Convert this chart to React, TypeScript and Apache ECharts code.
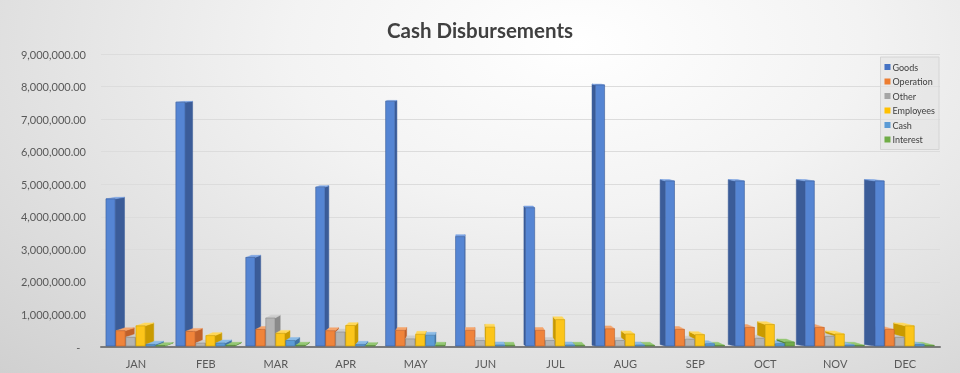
import React, { useEffect, useRef } from "react";
import * as echarts from "echarts";

const months = ["JAN", "FEB", "MAR", "APR", "MAY", "JUN", "JUL", "AUG", "SEP", "OCT", "NOV", "DEC"];
const goods = [4550000, 7520000, 2750000, 4910000, 7550000, 3390000, 4280000, 8050000, 5100000, 5100000, 5100000, 5100000];
const operation = [500000, 480000, 540000, 500000, 510000, 510000, 510000, 560000, 540000, 600000, 600000, 540000];
const other = [300000, 120000, 890000, 460000, 250000, 200000, 200000, 200000, 240000, 270000, 330000, 300000];
const employees = [650000, 350000, 420000, 660000, 390000, 610000, 840000, 400000, 380000, 690000, 400000, 650000];
const cash = [80000, 120000, 200000, 80000, 360000, 60000, 60000, 60000, 100000, 100000, 60000, 80000];
const interest = [40000, 50000, 50000, 40000, 50000, 50000, 50000, 50000, 50000, 150000, 50000, 50000];
const yTicks = [0, 1000000, 2000000, 3000000, 4000000, 5000000, 6000000, 7000000, 8000000, 9000000];

const seriesDefs = [
  { name: "Goods", data: goods, front: "#5585d3", side: "#3b5c98", top: "#7aa2e3", legend: "#4472c4" },
  { name: "Operation", data: operation, front: "#f0843a", side: "#c1612a", top: "#f5a56c", legend: "#ed7d31" },
  { name: "Other", data: other, front: "#b4b4b4", side: "#8a8a8a", top: "#cdcdcd", legend: "#a5a5a5" },
  { name: "Employees", data: employees, front: "#fcc51a", side: "#c99a00", top: "#ffd85a", legend: "#ffc000" },
  { name: "Cash", data: cash, front: "#5b9bd5", side: "#3f73a3", top: "#8bbbe6", legend: "#5b9bd5" },
  { name: "Interest", data: interest, front: "#72ad4a", side: "#4f8232", top: "#95c873", legend: "#70ad47" },
];

function fmt(v: number): string {
  if (v === 0) return "-  ";
  return v.toLocaleString("en-US", { minimumFractionDigits: 2, maximumFractionDigits: 2 });
}

function makeRender(si: number, front: string, side: string, top: string) {
  return (params: any, api: any) => {
    const idx = api.value(0);
    const val = api.value(1);
    const base = api.coord([idx, 0]);
    const tp = api.coord([idx, val]);
    const band = api.size([1, 0])[0];
    const bw = band * 0.143;
    const x0 = base[0] - 3 * bw + si * bw;
    const x1 = x0 + bw * 0.92;
    const yb = base[1] - 1;
    const yt = tp[1];
    const vx = api.getWidth() * 0.49;
    const cx = (x0 + x1) / 2;
    const dx = (vx - cx) * 0.026;
    const dy = -Math.max(0.8, (yt - 40) * 0.01);
    const z = cx < vx ? si * 3 : (10 - si) * 3;
    const sx = dx >= 0 ? x1 : x0;
    return {
      type: "group",
      children: [
        {
          type: "polygon",
          z2: z,
          shape: { points: [[sx, yt], [sx + dx, yt + dy], [sx + dx, yb + dy], [sx, yb]] },
          style: { fill: side, stroke: side, lineWidth: 0.5 },
        },
        {
          type: "polygon",
          z2: z + 1,
          shape: { points: [[x0, yt], [x1, yt], [x1 + dx, yt + dy], [x0 + dx, yt + dy]] },
          style: { fill: top, stroke: top, lineWidth: 0.5 },
        },
        {
          type: "rect",
          z2: z + 2,
          shape: { x: x0, y: yt, width: x1 - x0, height: yb - yt },
          style: { fill: front, stroke: side, lineWidth: 0.6 },
        },
      ],
    };
  };
}

export default function App() {
  const ref = useRef<HTMLDivElement>(null);
  useEffect(() => {
    if (!ref.current) return;
    const chart = echarts.init(ref.current, undefined, { renderer: "svg" });
    chart.setOption({
      animation: false,
      title: {
        text: "Cash Disbursements",
        left: "center",
        top: 14,
        textStyle: { fontFamily: "Lato", fontSize: 20.5, fontWeight: "bold", color: "#404040" },
      },
      legend: {
        orient: "vertical",
        right: 21,
        top: 57,
        icon: "rect",
        itemWidth: 6,
        itemHeight: 6,
        itemGap: 4.5,
        padding: [5, 4, 5, 4],
        backgroundColor: "rgba(225,225,225,0.55)",
        borderColor: "#d4d4d4",
        borderWidth: 1,
        textStyle: { fontFamily: "Lato", fontSize: 9, color: "#404040", lineHeight: 10, padding: [0, 0, 0, -3] },
        data: seriesDefs.map((s) => s.name),
      },
      grid: { left: 101, right: 20, top: 54, bottom: 26 },
      xAxis: {
        type: "category",
        data: months,
        axisLine: { lineStyle: { color: "#7a7a7a", width: 2 } },
        axisTick: { show: false },
        axisLabel: { color: "#595959", fontFamily: "Lato", fontSize: 11, margin: 11 },
      },
      yAxis: {
        type: "value",
        min: yTicks[0],
        max: yTicks[yTicks.length - 1],
        interval: yTicks[1] - yTicks[0],
        axisLine: { show: false },
        axisTick: { show: false },
        axisLabel: { color: "#595959", fontFamily: "Lato", fontSize: 11, margin: 15, formatter: (v: number) => fmt(v) },
        splitLine: { lineStyle: { color: "#dcdcdc", width: 1 } },
      },
      series: seriesDefs.map((s, si) => ({
        type: "custom",
        name: s.name,
        itemStyle: { color: s.legend },
        encode: { x: 0, y: 1 },
        data: s.data.map((v, i) => [i, v]),
        renderItem: makeRender(si, s.front, s.side, s.top),
      })),
    });
    return () => chart.dispose();
  }, []);
  return (
    <div
      ref={ref}
      style={{
        position: "fixed",
        left: 0,
        top: 0,
        width: 960,
        height: 373,
        background: "radial-gradient(ellipse at 60% 12%, #ffffff 0%, #f3f3f3 35%, #d0d0d0 100%)",
      }}
    />
  );
}
